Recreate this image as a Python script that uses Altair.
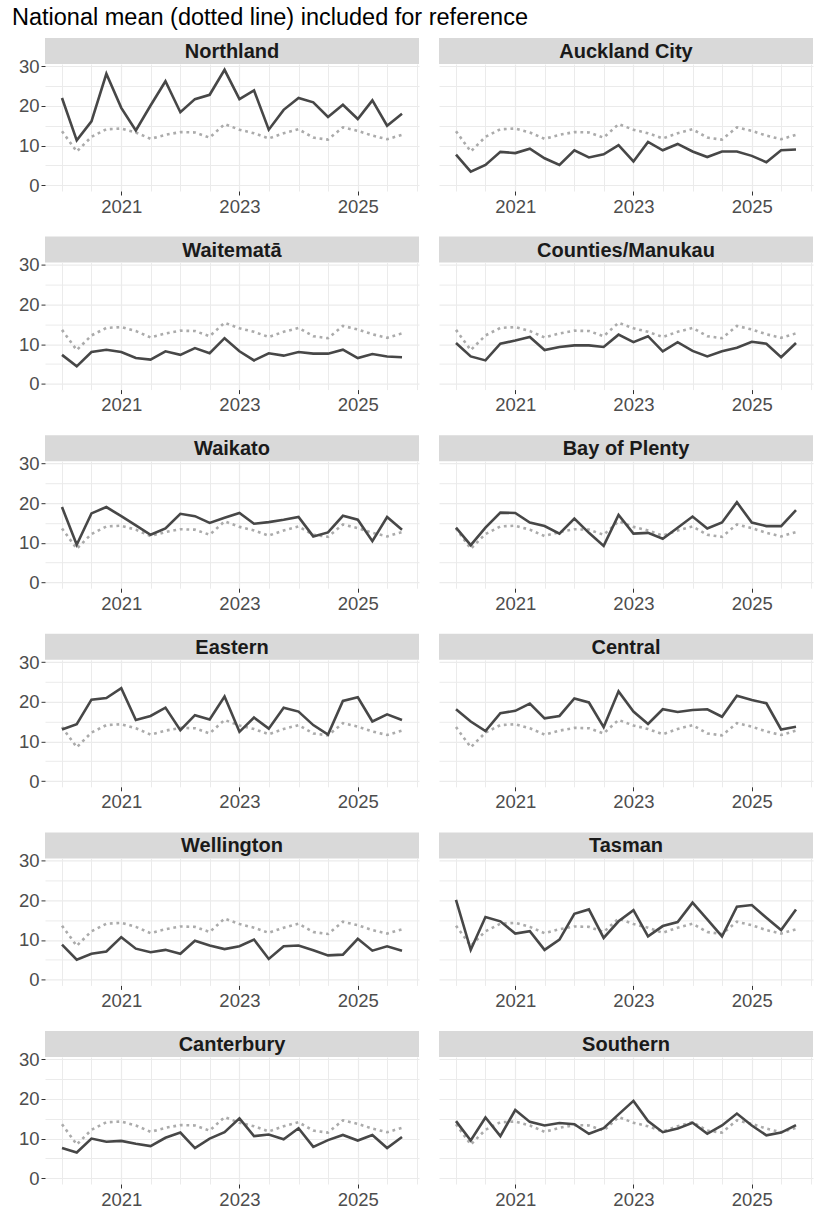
import altair as alt
import pandas as pd

# Quarterly observation dates (first day of each quarter, 2020 Q1 - 2025 Q4)
quarters = pd.date_range("2020-01-01", periods=24, freq="QS")

national = [13.6, 8.5, 12.2, 14.1, 14.3, 13.3, 11.7, 12.7, 13.4, 13.3, 12.0, 15.4,
            14.0, 13.1, 11.8, 13.1, 14.1, 12.0, 11.5, 14.6, 13.7, 12.5, 11.6, 12.7]

northland = [22.0, 11.3, 16.1, 28.1, 19.5, 13.8, 20.1, 26.2, 18.4, 21.7, 22.8, 29.1,
             21.7, 23.9, 14.0, 19.0, 22.0, 20.9, 17.2, 20.3, 16.7, 21.4, 15.0, 18.0]
auckland_city = [7.7, 3.4, 5.1, 8.4, 8.1, 9.2, 6.8, 5.1, 8.8, 7.0, 7.8, 10.1,
                 6.0, 10.9, 8.8, 10.4, 8.5, 7.1, 8.5, 8.5, 7.4, 5.8, 8.8, 9.0]
waitemata = [7.3, 4.4, 8.0, 8.6, 8.0, 6.5, 6.1, 8.2, 7.3, 9.0, 7.7, 11.5,
             8.2, 5.9, 7.7, 7.1, 8.0, 7.6, 7.6, 8.6, 6.5, 7.5, 6.9, 6.7]
counties_manukau = [10.3, 6.9, 5.9, 10.1, 10.9, 11.8, 8.5, 9.3, 9.7, 9.7, 9.3, 12.4,
                    10.5, 12.0, 8.2, 10.5, 8.3, 6.9, 8.2, 9.1, 10.6, 10.1, 6.7, 10.3]
waikato = [19.0, 9.5, 17.4, 19.0, 16.7, 14.4, 12.0, 13.6, 17.3, 16.7, 15.0, 16.3,
           17.5, 14.8, 15.2, 15.8, 16.5, 11.6, 12.6, 16.8, 15.8, 10.4, 16.5, 13.3]
bay_of_plenty = [13.8, 9.4, 13.8, 17.6, 17.5, 15.1, 14.2, 12.3, 16.1, 12.5, 9.2, 17.0,
                 12.3, 12.5, 11.0, 13.8, 16.6, 13.6, 15.1, 20.2, 15.1, 14.2, 14.2, 18.2]
eastern = [13.0, 14.3, 20.5, 20.9, 23.4, 15.4, 16.4, 18.5, 12.8, 16.6, 15.5, 21.3,
           12.4, 16.0, 13.2, 18.5, 17.5, 14.1, 11.7, 20.2, 21.1, 15.0, 16.8, 15.4]
central = [18.1, 15.0, 12.6, 17.1, 17.7, 19.5, 15.8, 16.4, 20.8, 19.8, 13.6, 22.6,
           17.5, 14.4, 18.1, 17.4, 17.9, 18.1, 16.2, 21.5, 20.4, 19.6, 13.0, 13.7]
wellington = [8.8, 5.0, 6.5, 7.1, 10.7, 7.8, 6.9, 7.5, 6.5, 9.8, 8.6, 7.7,
              8.4, 10.1, 5.2, 8.4, 8.6, 7.4, 6.1, 6.3, 10.3, 7.3, 8.4, 7.3]
tasman = [20.1, 7.5, 15.8, 14.7, 11.6, 12.2, 7.5, 10.1, 16.6, 17.7, 10.5, 14.7,
          17.5, 10.9, 13.5, 14.5, 19.4, 15.2, 10.9, 18.4, 18.8, 15.6, 12.5, 17.7]
canterbury = [7.6, 6.5, 10.0, 9.2, 9.4, 8.7, 8.1, 10.2, 11.5, 7.6, 10.0, 11.6,
              15.1, 10.6, 11.0, 9.8, 12.6, 7.9, 9.6, 10.9, 9.5, 10.9, 7.6, 10.4]
southern = [14.4, 9.5, 15.3, 10.6, 17.2, 14.2, 13.3, 13.9, 13.6, 11.2, 12.6, 16.1,
            19.5, 14.4, 11.6, 12.5, 14.0, 11.2, 13.3, 16.3, 13.3, 10.8, 11.5, 13.4]

region_names = ["Northland", "Auckland City", "Waitematā", "Counties/Manukau",
                "Waikato", "Bay of Plenty", "Eastern", "Central",
                "Wellington", "Tasman", "Canterbury", "Southern"]
region_values = [northland, auckland_city, waitemata, counties_manukau,
                 waikato, bay_of_plenty, eastern, central,
                 wellington, tasman, canterbury, southern]

FONT = "Liberation Sans"
PW, PH = 374, 127
STRIP = 26

x_scale = alt.Scale(domain=[alt.DateTime(year=2019, month=9, date=18),
                            alt.DateTime(year=2026, month=1, date=14)])
y_scale = alt.Scale(domain=[-1.46, 30.56], nice=False, zero=False)

half_years = [alt.DateTime(year=y, month=m, date=1)
              for y in range(2020, 2027) for m in (1, 7) if not (y == 2026 and m == 7)]

x_major = "month(datum.value) == 0 && year(datum.value) % 2 == 1"
y_major = "datum.value % 10 == 0"

x_axis = alt.Axis(values=half_years, format="%Y",
                  labelExpr="(" + x_major + ") ? timeFormat(datum.value, '%Y') : ''",
                  labelOverlap=False, labelFlush=False,
                  grid=True, gridColor="#EBEBEB",
                  gridWidth={"condition": {"test": x_major, "value": 1.2}, "value": 1.0},
                  domain=False,
                  tickColor={"condition": {"test": x_major, "value": "#333333"}, "value": "transparent"},
                  tickSize=4, labelPadding=2, labelFontSize=18.5, labelColor="#4D4D4D",
                  labelFont=FONT, title=None)

y_axis_left = alt.Axis(values=[0, 5, 10, 15, 20, 25, 30],
                       labelExpr="(" + y_major + ") ? datum.label : ''",
                       grid=True, gridColor="#EBEBEB",
                       gridWidth={"condition": {"test": y_major, "value": 1.2}, "value": 1.0},
                       domain=False,
                       tickColor={"condition": {"test": y_major, "value": "#333333"}, "value": "transparent"},
                       tickSize=4, labelPadding=2, labelFontSize=18.5, labelColor="#4D4D4D",
                       labelFont=FONT, title=None, labelOverlap=False, minExtent=33)

y_axis_right = alt.Axis(values=[0, 5, 10, 15, 20, 25, 30], labels=False, ticks=False,
                        domain=False, grid=True, gridColor="#EBEBEB",
                        gridWidth={"condition": {"test": y_major, "value": 1.2}, "value": 1.0},
                        title=None)


def panel(name, vals, left):
    df = pd.DataFrame({"date": quarters, "value": vals, "national": national})
    yax = y_axis_left if left else y_axis_right
    nat = alt.Chart(df).mark_line(color="#ABABAB", strokeWidth=2.6,
                                  strokeDash=[2.8, 3.8], strokeCap="butt").encode(
        x=alt.X("date:T", scale=x_scale, axis=x_axis),
        y=alt.Y("national:Q", scale=y_scale, axis=yax),
    )
    reg = alt.Chart(df).mark_line(color="#474747", strokeWidth=2.6).encode(
        x=alt.X("date:T", scale=x_scale, axis=x_axis),
        y=alt.Y("value:Q", scale=y_scale, axis=yax),
    )
    lab = pd.DataFrame({"label": [name]})
    strip_bg = alt.Chart(lab).mark_rect(color="#D9D9D9").encode(
        x=alt.value(0), x2=alt.value(PW), y=alt.value(-STRIP), y2=alt.value(0))
    strip_tx = alt.Chart(lab).mark_text(font=FONT, fontSize=20, fontWeight="bold",
                                        color="#1A1A1A", baseline="middle",
                                        align="center").encode(
        text="label:N", x=alt.value(PW / 2), y=alt.value(-STRIP / 2 + 1))
    return alt.layer(strip_bg, strip_tx, nat, reg).properties(width=PW, height=PH)


rows = []
for i in range(0, 12, 2):
    rows.append(alt.hconcat(panel(region_names[i], region_values[i], True),
                            panel(region_names[i + 1], region_values[i + 1], False),
                            spacing=20))

chart = alt.vconcat(*rows, spacing=20.6).properties(
    title=alt.TitleParams("National mean (dotted line) included for reference",
                          anchor="start", fontSize=23.5, fontWeight="normal",
                          font=FONT, color="#000000", offset=9),
    padding={"left": 12, "top": 5, "right": 7, "bottom": 0},
).configure_view(stroke=None)

chart.save("out.html", embed_options={"renderer": "svg", "actions": False})
